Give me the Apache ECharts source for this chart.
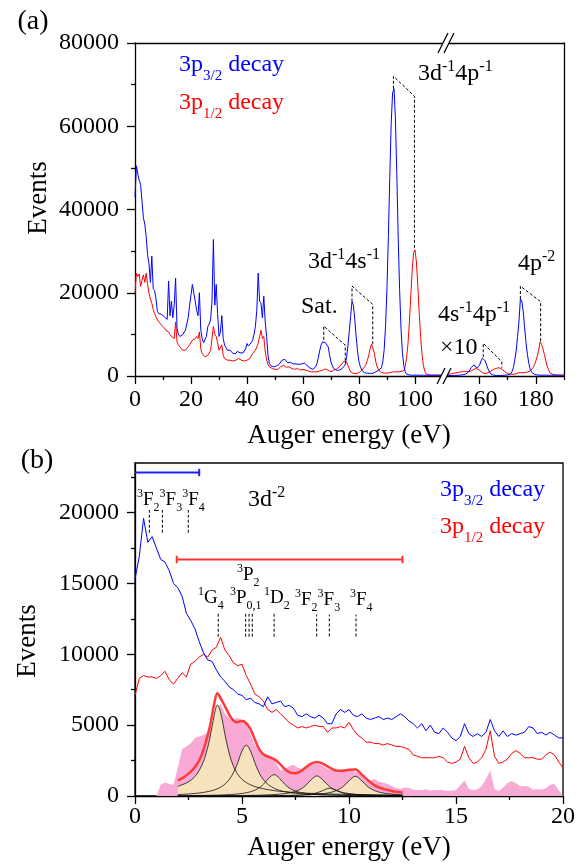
<!DOCTYPE html>
<html>
<head>
<meta charset="utf-8">
<script src="https://cdn.jsdelivr.net/npm/echarts@6/dist/echarts.min.js"></script>
<style>
html, body { margin: 0; padding: 0; background: #fff; }
#main { width: 583px; height: 864px; }
</style>
</head>
<body>
<div id="main"></div>
<script>
// panel (a) – energies on a 0.5 eV grid, left segment 0–110 eV, right segment 147–190 eV
const leftStart = 0
const rightStart = 147
const stepA = 0.5

const leftBlue = [
  43000, 50500, 48500, 47000, 46000, 42000, 38000, 36500, 33500, 29000,
  27000, 22500, 28800, 21000, 20500, 18500, 15500, 15000, 15200, 14800,
  14700, 14200, 13800, 13600, 22800, 14500, 18000, 14000, 17000, 23500,
  11500, 10000, 9500, 9800, 9900, 10500, 11000, 12500, 14000, 17000,
  19500, 22000, 19900, 18000, 15800, 14500, 20000, 11000, 9000, 8000,
  7800, 9500, 11900, 12500, 13500, 18000, 32800, 17000, 22000, 15000,
  9500, 10500, 14500, 9000, 7400, 6800, 6200, 6400, 6200, 5800,
  5400, 5600, 5400, 5900, 6300, 5600, 5400, 5500, 5800, 6500,
  7800, 7200, 7000, 8000, 8600, 10000, 11900, 15800, 24700, 18000,
  17500, 14000, 19200, 13000, 9500, 5000, 3000, 2500, 2200, 2200,
  2200, 2400, 2600, 2800, 3000, 3800, 4200, 4000, 3800, 3200,
  3000, 3300, 3400, 2900, 2600, 2900, 3000, 2800, 2600, 2900,
  3200, 3100, 2900, 2500, 2200, 1900, 1600, 1600, 1800, 2200,
  3000, 4500, 6200, 7500, 8200, 8600, 8000, 8300, 7000, 5000,
  3400, 2400, 1800, 1500, 1400, 1400, 1400, 1500, 1800, 2100,
  2600, 4200, 7000, 10500, 14300, 17900, 17000, 13500, 9400, 5800,
  3400, 2200, 1400, 1000, 800, 700, 640, 620, 620, 620,
  650, 750, 1000, 1200, 1400, 1700, 2000, 3400, 6400, 12200,
  21300, 33800, 48000, 60700, 68000, 69000, 62000, 48500, 33400, 20800,
  11500, 5700, 2500, 1000, 450, 300, 250, 220, 200, 200,
  200, 180, 200, 190, 170, 180, 200, 190, 180, 170,
  180, 190, 170, 180, 200, 190, 180, 170, 180, 190,
  180
]
const leftRed = [
  20000, 24700, 23900, 24500, 21500, 23000, 24300, 22500, 24700, 22000,
  19900, 18500, 17500, 16000, 15000, 14200, 13500, 13000, 12600, 12200,
  11900, 11500, 11000, 10800, 10600, 10000, 9500, 9200, 9000, 13000,
  8200, 7500, 7000, 6600, 6200, 6200, 6200, 6600, 7000, 7500,
  7800, 8600, 8600, 9000, 9500, 9000, 10600, 6500, 5400, 5000,
  4600, 4800, 5000, 5500, 6200, 9000, 11900, 10000, 9500, 8000,
  6200, 6000, 7500, 5000, 4200, 4000, 3800, 3900, 3800, 3700,
  3600, 3700, 3800, 4000, 4200, 3900, 3800, 3700, 3600, 3800,
  3800, 4000, 4200, 4800, 5400, 5800, 6200, 7000, 7800, 9500,
  11000, 9000, 9500, 6000, 3800, 2800, 2200, 2000, 1800, 1800,
  1600, 1500, 1600, 1800, 2200, 2500, 2600, 2300, 2100, 2300,
  2200, 2000, 1800, 1900, 1600, 1700, 1800, 1600, 1400, 1500,
  1600, 1500, 1400, 1300, 1200, 1100, 1000, 1000, 1000, 1000,
  1000, 1100, 1200, 1300, 1400, 1500, 1700, 1600, 1400, 1200,
  1000, 1200, 1400, 1600, 1700, 1900, 2200, 2600, 3000, 3500,
  3700, 3400, 2600, 1800, 1000, 700, 600, 600, 600, 700,
  800, 1000, 1400, 1800, 2200, 2800, 3800, 5000, 6600, 7700,
  7500, 5500, 3400, 2200, 1400, 1000, 800, 750, 700, 700,
  700, 750, 800, 900, 1000, 1000, 1000, 1000, 1000, 1000,
  1100, 1200, 1300, 2300, 4300, 7800, 13000, 19300, 25400, 29600,
  30300, 27400, 21800, 15300, 9500, 5200, 2500, 1100, 500, 300,
  250, 230, 220, 210, 200, 210, 200, 190, 200, 210,
  200
]
const rightBlue = [
  100, 100, 120, 100, 120, 130, 120, 130, 140, 150,
  150, 180, 200, 250, 300, 350, 450, 600, 900, 1400,
  2000, 2400, 2700, 3000, 1900, 2000, 2600, 3600, 4300, 4500,
  3600, 2600, 1700, 1000, 500, 300, 200, 150, 130, 120,
  120, 130, 150, 150, 180, 200, 250, 350, 500, 1000,
  2000, 3800, 6000, 9500, 13200, 18500, 18000, 15600, 11600, 8000,
  5200, 3000, 1600, 900, 560, 400, 300, 250, 220, 200,
  210, 200, 190, 200, 210, 200, 190, 180, 200, 190,
  180, 190, 200, 190, 180, 190, 200
]
const rightRed = [
  250, 280, 300, 350, 400, 500, 560, 600, 700, 750,
  800, 900, 950, 1000, 1040, 1000, 1050, 1000, 1040, 1100,
  1200, 1400, 1600, 1800, 1840, 1600, 1360, 1000, 800, 650,
  560, 650, 800, 1000, 1200, 1400, 1600, 1800, 1840, 2000,
  2000, 1900, 1600, 1300, 1040, 800, 560, 450, 400, 400,
  420, 500, 560, 700, 800, 820, 800, 820, 800, 850,
  960, 1050, 1200, 1500, 2000, 2700, 3600, 4800, 6200, 8200,
  7600, 6600, 5200, 3800, 2400, 1500, 800, 550, 400, 300,
  250, 230, 220, 210, 200, 200, 200
]
const leftMajor = [0, 20, 40, 60, 80, 100]
const leftMinor = [10, 30, 50, 70, 90]
const rightMajor = [160, 180]
const rightMinor = [170, 190]

// dashed guide lines joining the 3p3/2 and 3p1/2 lines, [eV, events]
const guideSat = [[67.4, 8700], [67.4, 12000], [75.1, 7400], [75.1, 3700]]
const guide4s = [[77.5, 17900], [77.5, 21600], [84.9, 17200], [84.9, 7700]]
const guide4p = [[92.3, 69000], [92.3, 72000], [99.8, 67200], [99.8, 30300]]
const guide4s4p = [[161.3, 4500], [161.3, 7850], [167.9, 3450], [167.9, 2000]]
const guide4p2 = [[174.5, 18500], [174.5, 21600], [181.7, 17850], [181.7, 8200]]

// panel (b) – 0.2 eV grid from 0 to 20 eV
const stepB = 0.2
const botBlue = [
  15300, 16900, 19600, 17900, 18300, 17500, 16700, 16500, 15900, 15000,
  14700, 14100, 12900, 12400, 11800, 10900, 10100, 9600, 9500, 8900,
  8400, 8100, 7700, 7500, 7200, 7100, 6800, 6900, 6600, 6500,
  6300, 7000, 6500, 6600, 6700, 6300, 6400, 6200, 5700, 5600,
  5800, 5600, 5500, 5700, 5500, 5100, 5100, 5800, 6100, 5900,
  6100, 5700, 5600, 5800, 5500, 5400, 5500, 5600, 5400, 5500,
  5400, 5600, 5800, 5600, 5300, 5100, 4800, 5100, 4600, 5000,
  4500, 4400, 4800, 4500, 4100, 3900, 4200, 5100, 4400, 4200,
  4400, 4200, 4500, 5400, 4600, 4200, 4600, 4200, 4400, 4300,
  4400, 4500, 4900, 4800, 4400, 4500, 4300, 4500, 4300, 4100,
  4100
]
const botRed = [
  7100, 8300, 8500, 8400, 8400, 8300, 8500, 8800, 8200, 7900,
  8300, 8700, 8400, 9300, 9500, 9800, 10000, 9800, 10300, 10500,
  11200, 10300, 9900, 9400, 9200, 9300, 8500, 7900, 7200, 7000,
  6700, 6100, 5900, 6100, 5800, 5500, 5200, 5000, 4800, 4900,
  4800, 4900, 5000, 4900, 4900, 4500, 4800, 4800, 4900, 4800,
  5200, 4700, 4300, 4100, 3800, 3800, 3700, 3700, 3600, 3700,
  3600, 3500, 3500, 3400, 3300, 2900, 2800, 2700, 2700, 2700,
  2700, 2800, 2700, 2400, 2300, 2400, 2600, 3500, 2700, 2300,
  2400, 2700, 3300, 4600, 2800, 2300, 2400, 2600, 3000, 3200,
  3000, 2700, 2700, 2700, 2600, 2600, 2900, 3100, 2900, 2400,
  2000
]
const botPink = [
  0, 0, 0, 0, 0, 0, 800, 950, 850, 800,
  2000, 3300, 3500, 3700, 4100, 4200, 4300, 4500, 5000, 6200,
  6500, 5800, 5500, 5400, 5500, 5400, 5100, 4400, 3600, 3200,
  3000, 2900, 2800, 2300, 1800, 1900, 2100, 2200, 2000, 1900,
  2100, 2200, 2300, 2300, 2100, 1900, 1800, 1750, 1700, 1800,
  1800, 1750, 1650, 1400, 1100, 1100, 1200, 1000, 950, 850,
  700, 560, 520, 600, 560, 450, 420, 420, 480, 380,
  420, 420, 400, 360, 380, 400, 750, 1100, 500, 400,
  480, 700, 1200, 1800, 500, 350, 600, 900, 1050, 900,
  680, 700, 650, 450, 480, 450, 550, 800, 850, 400,
  0
]

// fitted components of the 3d-2 final states and their sum
const fitX = [2.0, 2.25, 2.5, 2.75, 3.0, 3.25, 3.5, 3.7, 3.85, 4.0, 4.25, 4.5, 4.75, 5.0, 5.2, 5.4, 5.6, 5.8,
  6.0, 6.25, 6.5, 6.75, 7.0, 7.25, 7.5, 7.75, 8.0, 8.25, 8.5, 8.75, 9.1, 9.4, 9.7, 10.0, 10.3, 10.6, 10.9,
  11.2, 11.5, 11.8, 12.1, 12.5]
const fitG4 = [680, 820, 1000, 1300, 1800, 2650, 4100, 5700, 6420, 5900, 4000, 2500, 1650, 1180, 950, 790, 670, 580,
  510, 440, 380, 335, 300, 270, 245, 220, 200, 185, 170, 158, 143, 132, 122, 113, 105, 98, 92, 86, 81, 76, 72, 67]
const fitP = [103, 121, 143, 172, 211, 265, 340, 425, 511, 623, 901, 1370, 2151, 3171, 3590, 3171, 2348, 1639,
  1152, 773, 545, 402, 307, 241, 194, 160, 133, 113, 97, 84, 70, 61, 53, 47, 41, 37, 33, 30, 27, 25, 23, 20]
const fitD = [22, 25, 28, 32, 36, 42, 49, 56, 62, 70, 85, 106, 136, 179, 229, 302, 411, 576,
  827, 1251, 1510, 1251, 827, 528, 351, 245, 179, 136, 106, 85, 65, 52, 43, 36, 31, 27, 23, 20, 18, 16, 14, 13]
const fitF2 = [10, 11, 12, 13, 14, 15, 17, 18, 20, 21, 23, 26, 30, 34, 38, 43, 49, 57,
  66, 80, 100, 128, 168, 230, 330, 497, 777, 1177, 1420, 1177, 648, 386, 247, 168, 121, 91, 71, 57, 46, 38, 32, 26]
const fitF3 = [3, 3, 3, 3, 4, 4, 4, 5, 5, 5, 6, 6, 7, 8, 9, 10, 11, 12,
  14, 16, 20, 24, 30, 37, 49, 66, 94, 141, 225, 369, 550, 404, 225, 130, 81, 55, 39, 30, 23, 18, 15, 12]
const fitF4 = [6, 6, 7, 7, 8, 8, 9, 10, 10, 11, 11, 12, 14, 15, 16, 17, 19, 20,
  22, 25, 28, 33, 38, 44, 52, 62, 75, 93, 119, 155, 241, 378, 635, 1071, 1390, 1071, 635, 378, 241, 165, 119, 82]
const fitSum = [1100, 1300, 1580, 1950, 2500, 3500, 4900, 6500, 7250, 6900, 6200, 5500, 5200, 5300, 5150, 4700, 4000, 3300,
  2950, 2750, 2600, 2300, 1900, 1650, 1600, 1750, 2050, 2300, 2400, 2300, 2000, 1800, 1780, 1850, 1870, 1500, 1100,
  750, 550, 420, 320, 240]

// level positions (eV) and the span of the dashed markers (events)
const levels3p32 = [0.67, 1.28, 2.49]
const levels3p12a = [3.89, 5.17, 5.33, 5.48, 6.5]
const levels3p12b = [8.49, 9.08, 10.33]
const spanTop = [18580, 20180]
const spanMid = [11240, 12920]
const spanLow = [11260, 12800]
const barBlue = [0, 3.0, 22830]
const barRed = [1.95, 12.5, 16690]

const botYMajor = [0, 5000, 10000, 15000, 20000]
const botYMinor = [2500, 7500, 12500, 17500, 22500]

function grid(x0, step, ys) {
  return ys.map((v, i) => [x0 + i * step, v])
}
function zip(xs, ys) {
  return xs.map((x, i) => [x, ys[i]])
}

const serif = 'Liberation Serif'
const black = { color: '#000', width: 1.3 }
const lab = { fontFamily: serif, fontSize: 24, color: '#000', formatter: v => String(v) }
const BLUE = '#0000ff'
const RED = '#ff0000'

function valAxis(o) {
  return Object.assign({
    type: 'value',
    splitLine: { show: false },
    axisLine: { show: true, onZero: false, lineStyle: black },
    axisTick: { show: false },
    axisLabel: { show: false }
  }, o)
}

const xAxis = [
  valAxis({ gridIndex: 0, min: 0, max: 110, position: 'bottom',
    axisTick: { customValues: leftMajor, length: 8, lineStyle: black },
    axisLabel: Object.assign({ customValues: leftMajor, margin: 12 }, lab) }),
  valAxis({ gridIndex: 0, min: 0, max: 110, position: 'bottom', axisLine: { show: false, onZero: false },
    axisTick: { customValues: leftMinor, length: 4, lineStyle: black } }),
  valAxis({ gridIndex: 1, min: 147, max: 190, position: 'bottom',
    axisTick: { customValues: rightMajor, length: 8, lineStyle: black },
    axisLabel: Object.assign({ customValues: rightMajor, margin: 12 }, lab) }),
  valAxis({ gridIndex: 1, min: 147, max: 190, position: 'bottom', axisLine: { show: false, onZero: false },
    axisTick: { customValues: rightMinor, length: 4, lineStyle: black } }),
  valAxis({ gridIndex: 2, min: 0, max: 20, interval: 5, position: 'bottom',
    axisTick: { show: true, length: 8, lineStyle: black },
    minorTick: { show: true, splitNumber: 2, length: 4, lineStyle: black },
    axisLabel: Object.assign({ margin: 9 }, lab) }),
  valAxis({ gridIndex: 0, min: 0, max: 110, position: 'top' }),
  valAxis({ gridIndex: 1, min: 147, max: 190, position: 'top' })
]

const yAxis = [
  valAxis({ gridIndex: 0, min: 0, max: 80000, interval: 20000, position: 'left',
    axisTick: { show: true, length: 8, lineStyle: black },
    minorTick: { show: true, splitNumber: 2, length: 4, lineStyle: black },
    axisLabel: Object.assign({ margin: 16 }, lab) }),
  valAxis({ gridIndex: 1, min: 0, max: 80000, position: 'right' }),
  valAxis({ gridIndex: 2, min: 0, max: 23500, position: 'left',
    axisTick: { customValues: botYMajor, length: 8, lineStyle: black },
    axisLabel: Object.assign({ customValues: botYMajor, margin: 16 }, lab) }),
  valAxis({ gridIndex: 2, min: 0, max: 23500, position: 'left', axisLine: { show: false, onZero: false },
    axisTick: { customValues: botYMinor, length: 4, lineStyle: black } })
]

function spec(xi, yi, data, color, width, z) {
  return { type: 'line', xAxisIndex: xi, yAxisIndex: yi, data: data, symbol: 'none', silent: true,
    lineStyle: { color: color, width: width }, z: z }
}
function dash(xi, yi, data) {
  return { type: 'line', xAxisIndex: xi, yAxisIndex: yi, data: data, symbol: 'none', silent: true,
    lineStyle: { color: '#000', width: 1, type: [3, 2] }, z: 6 }
}

const series = [
  spec(0, 0, grid(leftStart, stepA, leftRed), RED, 1, 3),
  spec(0, 0, grid(leftStart, stepA, leftBlue), BLUE, 1, 4),
  spec(2, 1, grid(rightStart, stepA, rightRed), RED, 1, 3),
  spec(2, 1, grid(rightStart, stepA, rightBlue), BLUE, 1, 4),
  dash(0, 0, guideSat),
  dash(0, 0, guide4s),
  dash(0, 0, guide4p),
  dash(2, 1, guide4s4p),
  dash(2, 1, guide4p2),
  // panel (b)
  { type: 'line', xAxisIndex: 4, yAxisIndex: 2, data: grid(0, stepB, botPink), symbol: 'none', silent: true,
    lineStyle: { width: 0 }, areaStyle: { color: '#f9aad4', opacity: 1 }, z: 1 }
]
const fits = [fitG4, fitP, fitD, fitF2, fitF3, fitF4]
fits.forEach(f => series.push({ type: 'line', xAxisIndex: 4, yAxisIndex: 2, data: zip(fitX, f), symbol: 'none',
  smooth: 0.35, silent: true, lineStyle: { width: 0 }, areaStyle: { color: '#f6e2bd', opacity: 1 }, z: 2 }))
fits.forEach(f => series.push({ type: 'line', xAxisIndex: 4, yAxisIndex: 2, data: zip(fitX, f), symbol: 'none',
  smooth: 0.35, silent: true, lineStyle: { color: '#111', width: 0.8 }, z: 3 }))
series.push(Object.assign(spec(4, 2, zip(fitX, fitSum), '#ff3a3a', 2.5, 4), { smooth: 0.35 }))
series.push(spec(4, 2, grid(0, stepB, botRed), RED, 1, 5))
series.push(spec(4, 2, grid(0, stepB, botBlue), BLUE, 1, 5))

levels3p32.forEach(e => series.push(dash(4, 2, [[e, spanTop[0]], [e, spanTop[1]]])))
levels3p12a.forEach(e => series.push(dash(4, 2, [[e, spanMid[0]], [e, spanMid[1]]])))
levels3p12b.forEach(e => series.push(dash(4, 2, [[e, spanLow[0]], [e, spanLow[1]]])))

// horizontal range bars with end caps
function rangeBar(b, color, capLeft) {
  const out = [spec(4, 2, [[b[0], b[2]], [b[1], b[2]]], color, 2, 6),
    spec(4, 2, [[b[1], b[2] - 260], [b[1], b[2] + 260]], color, 2, 6)]
  if (capLeft) out.push(spec(4, 2, [[b[0], b[2] - 260], [b[0], b[2] + 260]], color, 2, 6))
  return out
}
rangeBar(barBlue, '#2020ff', false).forEach(s => series.push(s))
rangeBar(barRed, '#ff3030', true).forEach(s => series.push(s))

// text with sub/superscripts, placed part by part
const ctx = document.createElement('canvas').getContext('2d')
function txt(x, base, parts, color, size, small) {
  let cx = x
  const out = []
  parts.forEach(([t, k]) => {
    const fs = k === 'n' ? size : small
    const dy = k === 'b' ? size * 0.33 : (k === 'p' ? -size * 0.42 : 0)
    ctx.font = fs + 'px "' + serif + '"'
    out.push({ type: 'text', x: cx, y: base + dy - fs * 0.34, z: 100, silent: true,
      style: { text: t, fontSize: fs, fontFamily: serif, fill: color, align: 'left', verticalAlign: 'middle',
        textAlign: 'left', textVerticalAlign: 'middle' } })
    cx += ctx.measureText(t).width
  })
  return out
}
function label(x, y, text, size, rot) {
  return { type: 'text', x: x, y: y, rotation: rot || 0, z: 100, silent: true,
    style: { text: text, fontSize: size, fontFamily: serif, fill: '#000', align: 'center', verticalAlign: 'middle',
      textAlign: 'center', textVerticalAlign: 'middle' } }
}

const g = []
g.push(label(33, 22, '(a)', 28), label(37, 461, '(b)', 28))
g.push(label(349, 436, 'Auger energy (eV)', 27), label(349, 848, 'Auger energy (eV)', 27))
g.push(label(39, 198, 'Events', 27, Math.PI / 2), label(28, 641, 'Events', 27, Math.PI / 2))

g.push(...txt(179, 73, [['3p', 'n'], ['3/2', 'b'], [' decay', 'n']], BLUE, 24, 15))
g.push(...txt(179, 111, [['3p', 'n'], ['1/2', 'b'], [' decay', 'n']], RED, 24, 15))
g.push(...txt(440, 498, [['3p', 'n'], ['3/2', 'b'], [' decay', 'n']], BLUE, 24, 15))
g.push(...txt(440, 535, [['3p', 'n'], ['1/2', 'b'], [' decay', 'n']], RED, 24, 15))

g.push(...txt(418, 82, [['3d', 'n'], ['-1', 'p'], ['4p', 'n'], ['-1', 'p']], '#000', 24, 16))
g.push(...txt(308, 270, [['3d', 'n'], ['-1', 'p'], ['4s', 'n'], ['-1', 'p']], '#000', 24, 16))
g.push(...txt(301, 315, [['Sat.', 'n']], '#000', 24, 16))
g.push(...txt(438, 323, [['4s', 'n'], ['-1', 'p'], ['4p', 'n'], ['-1', 'p']], '#000', 24, 16))
g.push(...txt(440, 356, [['\u00d710', 'n']], '#000', 24, 16))
g.push(...txt(518, 272, [['4p', 'n'], ['-2', 'p']], '#000', 24, 16))

g.push(...txt(248, 508, [['3d', 'n'], ['-2', 'p']], '#000', 24, 16))
g.push(...txt(137, 506, [['3', 'p'], ['F', 'n'], ['2', 'b'], ['3', 'p'], ['F', 'n'], ['3', 'b'], ['3', 'p'], ['F', 'n'], ['4', 'b']], '#000', 19, 12))
g.push(...txt(198, 604, [['1', 'p'], ['G', 'n'], ['4', 'b']], '#000', 19, 12))
g.push(...txt(230, 604, [['3', 'p'], ['P', 'n'], ['0,1', 'b']], '#000', 19, 12))
g.push(...txt(264, 604, [['1', 'p'], ['D', 'n'], ['2', 'b']], '#000', 19, 12))
g.push(...txt(237, 581, [['3', 'p'], ['P', 'n'], ['2', 'b']], '#000', 19, 12))
g.push(...txt(295, 606, [['3', 'p'], ['F', 'n'], ['2', 'b'], ['3', 'p'], ['F', 'n'], ['3', 'b']], '#000', 19, 12))
g.push(...txt(350, 606, [['3', 'p'], ['F', 'n'], ['4', 'b']], '#000', 19, 12))

// axis break marks
g.push({ type: 'rect', z: 99, silent: true, shape: { x: 443, y: 40, width: 6, height: 6 }, style: { fill: '#fff' } })
g.push({ type: 'line', z: 100, silent: true, shape: { x1: 438, y1: 53, x2: 448, y2: 33 }, style: { stroke: '#000', lineWidth: 1.3 } })
g.push({ type: 'line', z: 100, silent: true, shape: { x1: 444, y1: 53, x2: 454, y2: 33 }, style: { stroke: '#000', lineWidth: 1.3 } })
g.push({ type: 'rect', z: 99, silent: true, shape: { x: 441, y: 373, width: 6, height: 6 }, style: { fill: '#fff' } })
g.push({ type: 'line', z: 100, silent: true, shape: { x1: 437, y1: 384, x2: 445, y2: 368 }, style: { stroke: '#000', lineWidth: 1.3 } })
g.push({ type: 'line', z: 100, silent: true, shape: { x1: 443, y1: 384, x2: 451, y2: 368 }, style: { stroke: '#000', lineWidth: 1.3 } })

const option = {
  animation: false,
  backgroundColor: '#fff',
  textStyle: { fontFamily: serif },
  grid: [
    { left: 135, top: 43, width: 308, height: 333 },
    { left: 443, top: 43, width: 121, height: 333 },
    { left: 135, top: 463, width: 428, height: 333, show: true, borderColor: '#000', borderWidth: 1.3 }
  ],
  xAxis: xAxis,
  yAxis: yAxis,
  series: series,
  graphic: { elements: g }
}

const chart = echarts.init(document.getElementById('main'))
chart.setOption(option)
</script>
</body>
</html>
